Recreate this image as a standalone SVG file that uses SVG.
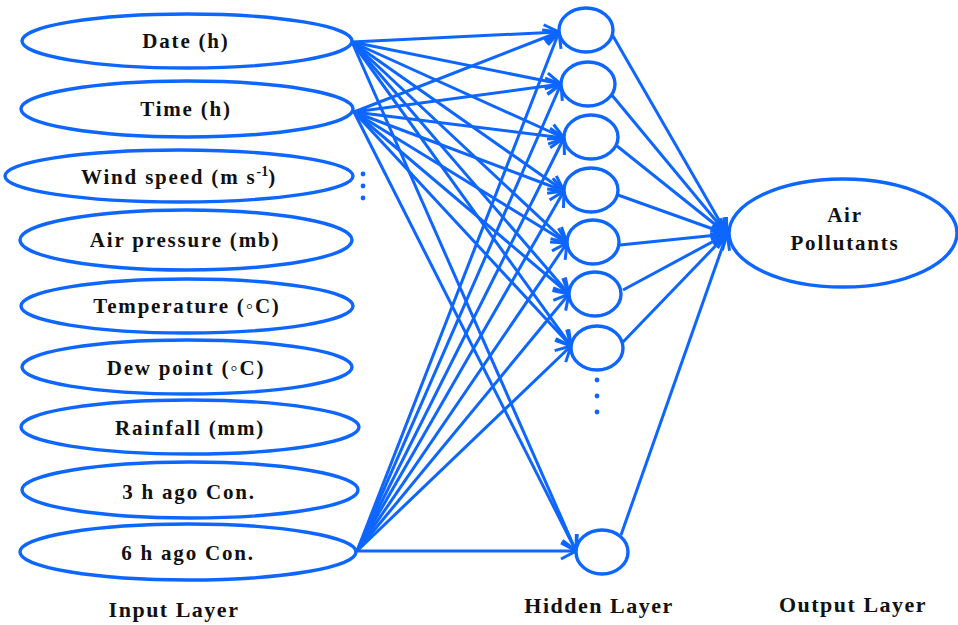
<svg xmlns="http://www.w3.org/2000/svg" width="958" height="625" viewBox="0 0 958 625">
<style>
.n{fill:#fff;stroke:#0d66ff;stroke-width:3.4}
.c line{stroke:#0d66ff;stroke-width:3;marker-end:url(#ah)}
.t{font-family:"Liberation Serif","Times New Roman",serif;font-weight:bold;font-size:21px;letter-spacing:1.8px;fill:#111;text-anchor:middle}
.L{font-size:22px;letter-spacing:1.5px}
.d{fill:#0d66ff}
</style>
<defs>
<marker id="ah" markerUnits="userSpaceOnUse" viewBox="-17 -10 19 20" markerWidth="19" markerHeight="20" refX="0" refY="0" orient="auto">
<path d="M-15,-8 L0,0 L-15,8" fill="none" stroke="#0d66ff" stroke-width="3" stroke-linejoin="miter"/>
</marker>
</defs>
<rect width="958" height="625" fill="#fff"/>
<g id="connectors" class="c">
<line x1="352" y1="42" x2="559" y2="32"/>
<line x1="352" y1="42" x2="561" y2="84"/>
<line x1="352" y1="42" x2="564" y2="138"/>
<line x1="352" y1="42" x2="564" y2="191"/>
<line x1="352" y1="42" x2="567" y2="243"/>
<line x1="352" y1="42" x2="569" y2="294"/>
<line x1="352" y1="42" x2="571" y2="346"/>
<line x1="352" y1="42" x2="576" y2="551"/>
<line x1="354" y1="112" x2="559" y2="32"/>
<line x1="354" y1="112" x2="561" y2="84"/>
<line x1="354" y1="112" x2="564" y2="138"/>
<line x1="354" y1="112" x2="564" y2="191"/>
<line x1="354" y1="112" x2="567" y2="243"/>
<line x1="354" y1="112" x2="569" y2="294"/>
<line x1="354" y1="112" x2="571" y2="346"/>
<line x1="354" y1="112" x2="576" y2="551"/>
<line x1="357" y1="551" x2="559" y2="32"/>
<line x1="357" y1="551" x2="561" y2="84"/>
<line x1="357" y1="551" x2="564" y2="138"/>
<line x1="357" y1="551" x2="564" y2="191"/>
<line x1="357" y1="551" x2="567" y2="243"/>
<line x1="357" y1="551" x2="569" y2="294"/>
<line x1="357" y1="551" x2="571" y2="346"/>
<line x1="357" y1="551" x2="576" y2="551"/>
<line x1="613" y1="36" x2="727" y2="234"/>
<line x1="611" y1="94" x2="727" y2="234"/>
<line x1="617" y1="146" x2="727" y2="234"/>
<line x1="618" y1="195" x2="727" y2="234"/>
<line x1="620" y1="245" x2="727" y2="234"/>
<line x1="623" y1="290" x2="727" y2="234"/>
<line x1="623" y1="342" x2="727" y2="234"/>
<line x1="621" y1="535" x2="727" y2="234"/>
</g>
<g id="in-date"><ellipse class="n" cx="187" cy="41" rx="165" ry="27"/><text class="t" x="186" y="48">Date (h)</text></g>
<g id="in-time"><ellipse class="n" cx="187" cy="109" rx="166" ry="28"/><text class="t" x="186" y="116">Time (h)</text></g>
<g id="in-wind"><ellipse class="n" cx="179" cy="176" rx="174" ry="26"/><text class="t" x="179" y="184">Wind speed (m s<tspan font-size="14" dy="-8" letter-spacing="0">-1</tspan><tspan dy="8">)</tspan></text></g>
<g id="in-pressure"><ellipse class="n" cx="186" cy="240" rx="166" ry="30"/><text class="t" x="185" y="247">Air pressure (mb)</text></g>
<g id="in-temp"><ellipse class="n" cx="187" cy="306" rx="166" ry="27"/><text class="t" x="187" y="313">Temperature (◦C)</text></g>
<g id="in-dew"><ellipse class="n" cx="187" cy="367" rx="165" ry="27"/><text class="t" x="186" y="375">Dew point (◦C)</text></g>
<g id="in-rain"><ellipse class="n" cx="190" cy="427" rx="169" ry="27"/><text class="t" x="190" y="435">Rainfall (mm)</text></g>
<g id="in-3h"><ellipse class="n" cx="190" cy="490" rx="168" ry="28"/><text class="t" x="189" y="499">3 h ago Con.</text></g>
<g id="in-6h"><ellipse class="n" cx="188" cy="552" rx="168" ry="28"/><text class="t" x="188" y="560">6 h ago Con.</text></g>
<g id="dots-in"><circle class="d" cx="363" cy="174" r="2.4"/><circle class="d" cx="363" cy="186" r="2.4"/><circle class="d" cx="363" cy="198" r="2.4"/></g>
<g id="h1"><ellipse class="n" cx="586" cy="30" rx="27" ry="22"/></g>
<g id="h2"><ellipse class="n" cx="588" cy="84" rx="27" ry="22"/></g>
<g id="h3"><ellipse class="n" cx="591" cy="137" rx="27" ry="22"/></g>
<g id="h4"><ellipse class="n" cx="591" cy="190" rx="27" ry="22"/></g>
<g id="h5"><ellipse class="n" cx="593" cy="242" rx="26" ry="22"/></g>
<g id="h6"><ellipse class="n" cx="595" cy="294" rx="26" ry="22"/></g>
<g id="h7"><ellipse class="n" cx="597" cy="348" rx="26" ry="22"/></g>
<g id="h8"><ellipse class="n" cx="602" cy="552" rx="26" ry="22"/></g>
<g id="dots-hidden"><circle class="d" cx="597" cy="380" r="2.4"/><circle class="d" cx="597" cy="396" r="2.4"/><circle class="d" cx="597" cy="412" r="2.4"/></g>
<g id="out"><ellipse class="n" cx="843" cy="233" rx="114" ry="54"/><text class="t" x="845" y="222">Air</text><text class="t" x="845" y="250">Pollutants</text></g>
<g id="labels">
<text class="t L" x="174" y="617">Input Layer</text>
<text class="t L" x="599" y="613">Hidden Layer</text>
<text class="t L" x="853" y="612">Output Layer</text>
</g>
</svg>
